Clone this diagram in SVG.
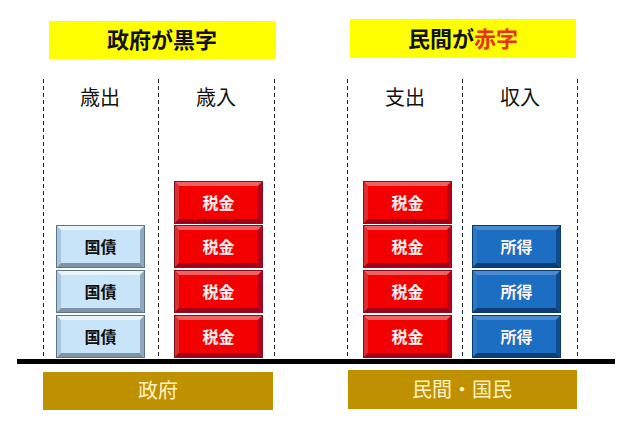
<svg xmlns="http://www.w3.org/2000/svg" xmlns:xlink="http://www.w3.org/1999/xlink" width="631" height="426" viewBox="0 0 631 426">
<style>
.title{font-family:"Noto Sans CJK JP","Noto Sans CJK SC",sans-serif;font-size:22px;font-weight:bold;fill:#111;text-anchor:middle}
.head{font-family:"Noto Sans CJK JP","Noto Sans CJK SC",sans-serif;font-size:20px;fill:#111;text-anchor:middle}
.btn{font-family:"Noto Sans CJK JP","Noto Sans CJK SC",sans-serif;font-size:16px;font-weight:bold;text-anchor:middle}
.dark{fill:#111}
.light{fill:#fff4f4}
.foot{font-family:"Noto Sans CJK JP","Noto Sans CJK SC",sans-serif;font-size:20px;fill:#fff3c4;text-anchor:middle}
.dash{stroke:#222;stroke-width:1;stroke-dasharray:4,3;fill:none}
</style>
<defs>
<g id="bBlue">
<rect x="0" y="0" width="89" height="43" fill="#c8e4f8"/>
<polygon points="0,0 89,0 84,5 5,5" fill="#e8f4fc"/>
<polygon points="0,0 5,5 5,38 0,43" fill="#a9c6dc"/>
<polygon points="0,43 5,38 84,38 89,43" fill="#7d94a8"/>
<polygon points="89,0 89,43 84,38 84,5" fill="#90a9bd"/>
<rect x="0.5" y="0.5" width="88" height="42" fill="none" stroke="#5e7386" stroke-width="1"/>
</g>
<g id="bRed">
<rect x="0" y="0" width="89" height="43" fill="#f50000"/>
<polygon points="0,0 89,0 84,5 5,5" fill="#f06060"/>
<polygon points="0,0 5,5 5,38 0,43" fill="#d83030"/>
<polygon points="0,43 5,38 84,38 89,43" fill="#a0001a"/>
<polygon points="89,0 89,43 84,38 84,5" fill="#b8001a"/>
<rect x="0.5" y="0.5" width="88" height="42" fill="none" stroke="#8a1020" stroke-width="1"/>
</g>
<g id="bBlueDark">
<rect x="0" y="0" width="89" height="43" fill="#1c6ec2"/>
<polygon points="0,0 89,0 84,5 5,5" fill="#4a8ad0"/>
<polygon points="0,0 5,5 5,38 0,43" fill="#2a78c8"/>
<polygon points="0,43 5,38 84,38 89,43" fill="#0c3f78"/>
<polygon points="89,0 89,43 84,38 84,5" fill="#0f4c8c"/>
<rect x="0.5" y="0.5" width="88" height="42" fill="none" stroke="#0b3a6e" stroke-width="1"/>
</g>
</defs>
<rect width="631" height="426" fill="#fff"/>

<g id="title-gov">
<rect x="49" y="21" width="227" height="38" fill="#ffff00"/>
<text class="title" x="162" y="48">政府が黒字</text>
</g>
<g id="title-private">
<rect x="350" y="19" width="226" height="39" fill="#ffff00"/>
<text class="title" x="463" y="47">民間が<tspan fill="#e8321a">赤字</tspan></text>
</g>

<g id="dividers">
<line class="dash" x1="43.5" y1="79" x2="43.5" y2="366"/>
<line class="dash" x1="158.5" y1="79" x2="158.5" y2="366"/>
<line class="dash" x1="274.5" y1="79" x2="274.5" y2="366"/>
<line class="dash" x1="347.5" y1="79" x2="347.5" y2="366"/>
<line class="dash" x1="462.5" y1="79" x2="462.5" y2="366"/>
<line class="dash" x1="577.5" y1="79" x2="577.5" y2="366"/>
</g>

<g id="headings">
<text class="head" x="100" y="105">歳出</text>
<text class="head" x="216" y="105">歳入</text>
<text class="head" x="405" y="105">支出</text>
<text class="head" x="520" y="105">収入</text>
</g>

<g id="gov-bond-1"><use xlink:href="#bBlue" x="56" y="225"/><text class="btn dark" x="100.5" y="252.5">国債</text></g>
<g id="gov-bond-2"><use xlink:href="#bBlue" x="56" y="270"/><text class="btn dark" x="100.5" y="297.5">国債</text></g>
<g id="gov-bond-3"><use xlink:href="#bBlue" x="56" y="315"/><text class="btn dark" x="100.5" y="342.5">国債</text></g>

<g id="gov-tax-1"><use xlink:href="#bRed" x="174" y="181"/><text class="btn light" x="218.5" y="208.5">税金</text></g>
<g id="gov-tax-2"><use xlink:href="#bRed" x="174" y="225"/><text class="btn light" x="218.5" y="252.5">税金</text></g>
<g id="gov-tax-3"><use xlink:href="#bRed" x="174" y="270"/><text class="btn light" x="218.5" y="297.5">税金</text></g>
<g id="gov-tax-4"><use xlink:href="#bRed" x="174" y="315"/><text class="btn light" x="218.5" y="342.5">税金</text></g>

<g id="pri-tax-1"><use xlink:href="#bRed" x="363" y="181"/><text class="btn light" x="407.5" y="208.5">税金</text></g>
<g id="pri-tax-2"><use xlink:href="#bRed" x="363" y="225"/><text class="btn light" x="407.5" y="252.5">税金</text></g>
<g id="pri-tax-3"><use xlink:href="#bRed" x="363" y="270"/><text class="btn light" x="407.5" y="297.5">税金</text></g>
<g id="pri-tax-4"><use xlink:href="#bRed" x="363" y="315"/><text class="btn light" x="407.5" y="342.5">税金</text></g>

<g id="income-1"><use xlink:href="#bBlueDark" x="472" y="225"/><text class="btn light" x="516.5" y="252.5">所得</text></g>
<g id="income-2"><use xlink:href="#bBlueDark" x="472" y="270"/><text class="btn light" x="516.5" y="297.5">所得</text></g>
<g id="income-3"><use xlink:href="#bBlueDark" x="472" y="315"/><text class="btn light" x="516.5" y="342.5">所得</text></g>

<g id="baseline">
<rect x="17" y="359" width="598" height="5" fill="#000"/>
</g>

<g id="foot-gov">
<rect x="43" y="372" width="230" height="38" fill="#bf9000"/>
<text class="foot" x="158" y="398">政府</text>
</g>
<g id="foot-private">
<rect x="348" y="370" width="229" height="39" fill="#bf9000"/>
<text class="foot" x="462" y="397">民間・国民</text>
</g>
</svg>
